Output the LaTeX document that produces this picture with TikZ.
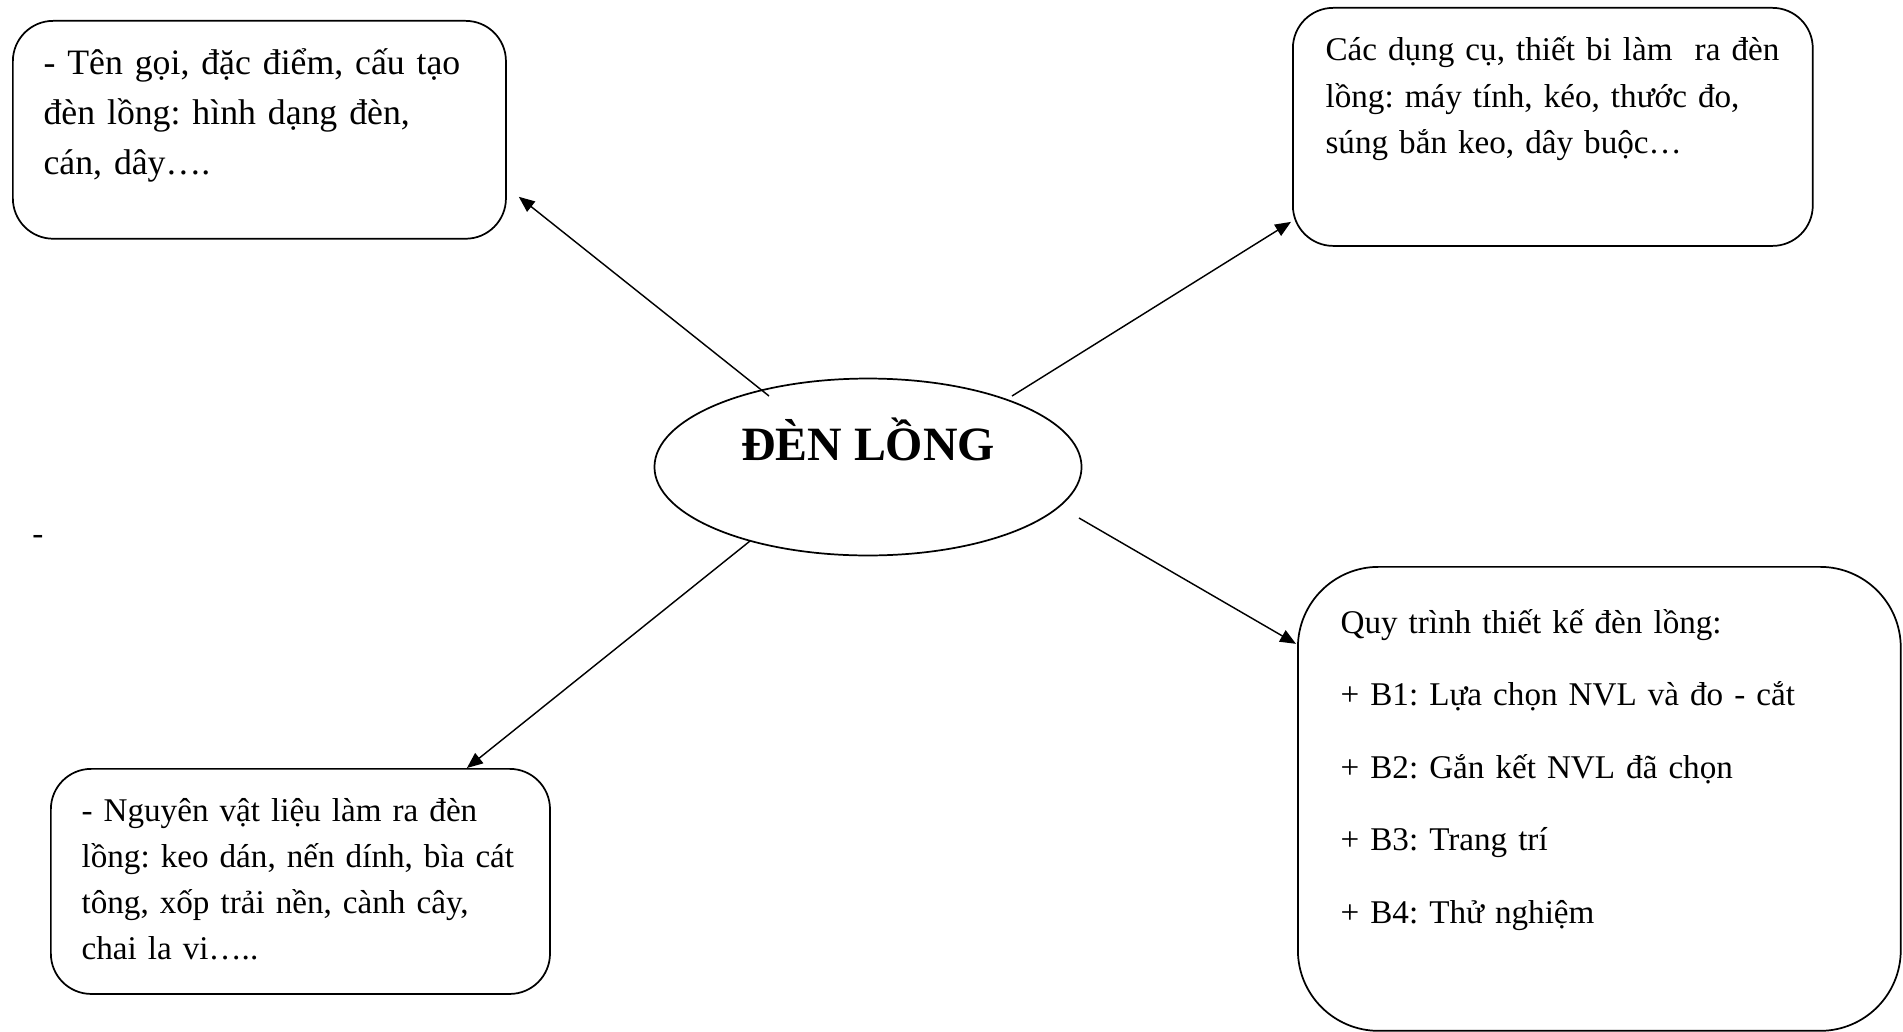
\documentclass[tikz,border=0pt]{standalone}
\usepackage{fontspec}
\setmainfont{Liberation Serif}
\usetikzlibrary{shapes, arrows.meta}
\frenchspacing
\tikzstyle{panel} = [rectangle, draw, line width=0.6pt, rounded corners=14pt, inner sep=0pt, anchor=north west]
\tikzstyle{para} = [anchor=base west, inner sep=0pt, align=left, font=\fontsize{11.5}{16}\selectfont]
\tikzstyle{arrow} = [line width=0.5pt,->,>={Triangle[length=5.5pt,width=4.5pt]}]

\begin{document}
\begin{tikzpicture}[x=0.347pt, y=-0.347pt]
    \useasboundingbox (0,0) rectangle (1903,1031);
    % centre
    \node(lamp)[ellipse, draw, line width=0.6pt, minimum width=148.2pt, minimum height=61.4pt, inner sep=0pt] at (868,467) {};
    \node(title)[anchor=base, inner sep=0pt, font=\bfseries\fontsize{16.6}{20}\selectfont] at ([yshift=2.4pt]lamp.center) {ĐÈN LỒNG};
    % boxes
    \node(box1)[panel, minimum width=171.1pt, minimum height=75.6pt] at (12,20) {};
    \node(txt1)[para, font=\fontsize{12.4}{17.35}\selectfont, text width=160pt] at ([shift={(31,55)}]box1.north west)
        {- Tên gọi, đặc điểm, cấu tạo\\ đèn lồng: hình dạng đèn,\\ cán, dây….};
    \node(box2)[panel, minimum width=180.4pt, minimum height=82.6pt] at (1292,7) {};
    \node(txt2)[para, text width=168pt] at ([shift={(33,54)}]box2.north west)
        {Các dụng cụ, thiết bi làm\ \ ra đèn\\ lồng: máy tính, kéo, thước đo,\\ súng bắn keo, dây buộc…};
    \node(box3)[panel, minimum width=173.2pt, minimum height=78.1pt] at (50,768) {};
    \node(txt3)[para, text width=160pt] at ([shift={(31,53)}]box3.north west)
        {- Nguyên vật liệu làm ra đèn\\ lồng: keo dán, nến dính, bìa cát\\ tông, xốp trải nền, cành cây,\\ chai la vi…..};
    \node(box4)[panel, rounded corners=28pt, minimum width=209.2pt, minimum height=161pt] at (1297,566) {};
    \node(txt4)[para, font=\fontsize{11.5}{25.2}\selectfont, text width=190pt] at ([shift={(43,67)}]box4.north west)
        {Quy trình thiết kế đèn lồng:\\ + B1: Lựa chọn NVL và đo - cắt\\ + B2: Gắn kết NVL đã chọn\\ + B3: Trang trí\\ + B4: Thử nghiệm};
    \node(stray)[inner sep=0pt, font=\fontsize{11.5}{16}\selectfont] at (38,540) {-};
    % arrows
    \draw[arrow] ([shift={(-99,-71)}]lamp.center) -- ([shift={(12,67)}]box1.east);
    \draw[arrow] ([shift={(144,-71)}]lamp.center) -- ([shift={(-1,95)}]box2.west);
    \draw[arrow] ([shift={(-118,74)}]lamp.center) -- ([shift={(166.5,0)}]box3.north);
    \draw[arrow] ([shift={(211,51)}]lamp.center) -- ([shift={(-1,-155)}]box4.west);
\end{tikzpicture}
\end{document}
